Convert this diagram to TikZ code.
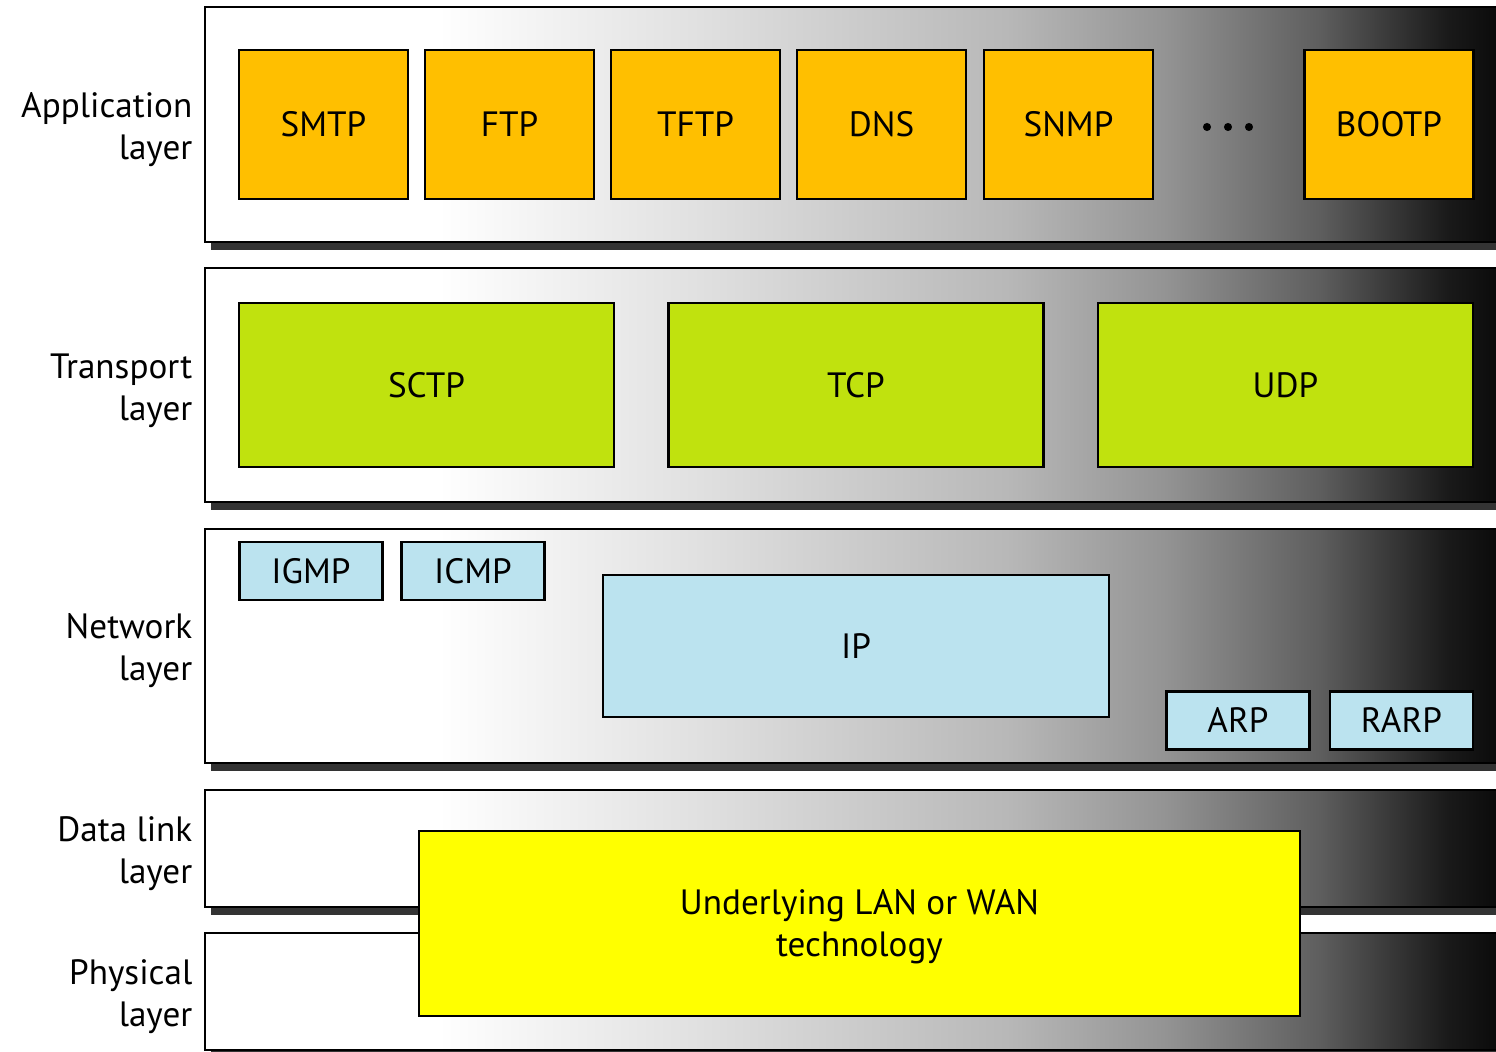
\documentclass[tikz,border=0pt]{standalone}
\usepackage{fontspec}
\setmainfont{PT Sans}
\usetikzlibrary{positioning}

\definecolor{appcolor}{RGB}{255,191,0}
\definecolor{transcolor}{RGB}{192,226,14}
\definecolor{netcolor}{RGB}{187,227,239}
\definecolor{lancolor}{RGB}{255,255,0}
\definecolor{shadowgray}{RGB}{51,51,51}
\pgfdeclarehorizontalshading{bandshade}{100bp}{color(0bp)=(white); color(25bp)=(white); color(34bp)=(white); color(44bp)=(black!12); color(56bp)=(black!28); color(62bp)=(black!42); color(68bp)=(black!63); color(73bp)=(black!90); color(75bp)=(black!96); color(100bp)=(black!96)}

\begin{document}
\begin{tikzpicture}[x=0.01cm,y=-0.01cm,
	font=\fontsize{10}{12}\selectfont,
	band/.style={draw=black,line width=0.7pt,shading=bandshade},
	protobox/.style={draw=black,line width=0.7pt,inner sep=0pt,align=center},
	appbox/.style={protobox,fill=appcolor,minimum width=1.69cm,minimum height=1.49cm},
	transbox/.style={protobox,fill=transcolor,minimum width=3.75cm,minimum height=1.64cm},
	netbox/.style={protobox,fill=netcolor,minimum width=1.43cm,minimum height=0.58cm},
	layerlabel/.style={anchor=east,align=right,inner sep=0pt}]
\useasboundingbox (0,0) rectangle (1496,1052);

% layers
\foreach \top/\bot in {7/242,268/502,529/763,790/907,933/1050}{
	\fill[shadowgray](211,\bot)rectangle(1500,\bot+8);
	\draw[band](205,\top)rectangle(1500,\bot);
}

\node[layerlabel] (applabel) at (193,130) {Application\\layer};
\node[layerlabel] (translabel) at (193,391) {Transport\\layer};
\node[layerlabel] (netlabel) at (193,651) {Network\\layer};
\node[layerlabel] (linklabel) at (193,854) {Data link\\layer};
\node[layerlabel] (phylabel) at (193,997) {Physical\\layer};

% application
\foreach \name/\cx in {SMTP/323.5,FTP/509.5,TFTP/695.5,DNS/881.5,SNMP/1068.5,BOOTP/1389}
	\node[appbox] (\name) at (\cx,124.5) {\name};
\foreach \x in {1207,1228,1249}
	\fill (\x,127) circle[radius=1.15pt];

% transport
\foreach \name/\cx in {SCTP/426.5,TCP/856,UDP/1285.5}
	\node[transbox] (\name) at (\cx,385) {\name};

% network
\node[netbox] (IGMP) at (311,571) {IGMP};
\node[netbox] (ICMP) at (473,571) {ICMP};
\node[netbox,minimum width=5.06cm,minimum height=1.42cm] (IP) at (856,646) {IP};
\node[netbox] (ARP) at (1238,720.5) {ARP};
\node[netbox] (RARP) at (1401.5,720.5) {RARP};

% data link + physical
\node[protobox,fill=lancolor,minimum width=8.81cm,minimum height=1.85cm] (lan) at (859.5,923.5) {};
\node[align=center,inner sep=0pt] (lantext) at (859.5,926.5) {Underlying LAN or WAN\\technology};

\end{tikzpicture}
\end{document}
